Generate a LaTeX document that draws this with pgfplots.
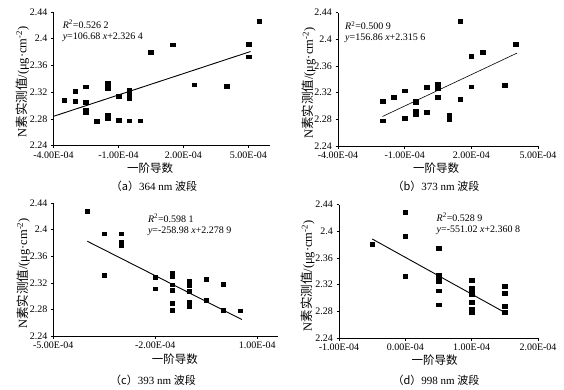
\documentclass[border=0pt]{standalone}
\usepackage{fontspec}
\setmainfont{Liberation Serif}
\newfontfamily\cjk{Noto Sans CJK SC}
\usepackage{pgfplots}
\pgfplotsset{compat=1.18}
\pgfplotsset{panel/.style={
  scale only axis, height=133.5pt,
  axis x line*=bottom, axis y line*=left,
  axis line style={-, black, line width=0.6pt},
  ymin=2.24, ymax=2.44,
  ytick={2.24,2.28,2.32,2.36,2.40,2.44},
  yticklabels={2.24,2.28,2.32,2.36,2.4,2.44},
  scaled x ticks=false,
  tick align=outside, major tick length=2.5pt,
  tick style={black, line width=0.5pt},
  ticklabel style={font=\fontsize{10}{12}\selectfont},
  /pgf/number format/assume math mode=true,
  clip=false,
  xlabel={一阶导数},
  ylabel={N{\cjk 素实测值}/(μg·cm\textsuperscript{-2})},
},
pts/.style={only marks, mark=square*, mark size=2.1pt, mark options={fill=black, draw=black, xscale=1.12, yscale=0.9}},
fit/.style={black, line width=0.9pt, no marks},
}
\tikzset{eq/.style={anchor=north west, align=left, font=\fontsize{10}{11}\selectfont, inner sep=0pt}}
\begin{document}
\begin{tikzpicture}
\useasboundingbox (0,0) rectangle (564pt,-389pt);
% (a)
\begin{axis}[panel, at={(53.5pt,-145.5pt)}, anchor=south west, width=216.5pt,
  xmin=-4e-4, xmax=6e-4, xtick={-4e-4,-1e-4,2e-4,5e-4},
  xticklabels={-4.00E-04,-1.00E-04,2.00E-04,5.00E-04},
  xlabel style={at={([yshift=-22.5pt]axis description cs:0.446,0)}, anchor=center, font=\cjk\fontsize{11.5}{13}\selectfont},
  ylabel style={at={([xshift=-31pt]axis description cs:0,0.476)}, anchor=center, font=\fontsize{12.5}{14}\selectfont}]
\addplot[pts] coordinates {
(-3.5e-4,2.308) (-3.0e-4,2.321) (-3.0e-4,2.306) (-2.5e-4,2.328) (-2.5e-4,2.305)
(-2.5e-4,2.293) (-2.5e-4,2.290) (-2.0e-4,2.276) (-1.5e-4,2.333) (-1.5e-4,2.326)
(-1.5e-4,2.286) (-1.5e-4,2.281) (-1.0e-4,2.314) (-1.0e-4,2.278) (-0.5e-4,2.323)
(-0.5e-4,2.317) (-0.5e-4,2.310) (-0.5e-4,2.277) (0,2.277) (0.5e-4,2.380)
(1.5e-4,2.391) (2.5e-4,2.331) (4.0e-4,2.329) (5.0e-4,2.392) (5.0e-4,2.373)
(5.5e-4,2.426)};
\addplot[fit] coordinates {(-4e-4,2.2837) (5.1e-4,2.3808)};
\node[eq] at (rel axis cs:0.042,0.94) {\textit{R}\textsuperscript{2}=0.526 2\\\textit{y}=106.68 \textit{x}+2.326 4};
\end{axis}
% (b)
\begin{axis}[panel, at={(338pt,-146pt)}, anchor=south west, width=200pt,
  xmin=-4e-4, xmax=5e-4, xtick={-4e-4,-1e-4,2e-4,5e-4},
  xticklabels={-4.00E-04,-1.00E-04,2.00E-04,5.00E-04},
  xlabel style={at={([yshift=-22pt]axis description cs:0.49,0)}, anchor=center, font=\cjk\fontsize{11.5}{13}\selectfont},
  ylabel style={at={([xshift=-29pt]axis description cs:0,0.47)}, anchor=center, font=\fontsize{12.5}{14}\selectfont}]
\addplot[pts] coordinates {
(-2.0e-4,2.307) (-2.0e-4,2.278) (-1.5e-4,2.313) (-1.0e-4,2.323) (-1.0e-4,2.282)
(-0.5e-4,2.308) (-0.5e-4,2.305) (-0.5e-4,2.293) (-0.5e-4,2.288) (0,2.328)
(0,2.291) (0.5e-4,2.333) (0.5e-4,2.326) (0.5e-4,2.313) (1.0e-4,2.287)
(1.0e-4,2.280) (1.5e-4,2.427) (1.5e-4,2.310) (2.0e-4,2.374) (2.0e-4,2.329)
(2.5e-4,2.380) (3.5e-4,2.331) (4.0e-4,2.392)};
\addplot[fit, line width=0.6pt] coordinates {(-2e-4,2.2842) (4.05e-4,2.3791)};
\node[eq] at (rel axis cs:0.035,0.933) {\textit{R}\textsuperscript{2}=0.500 9\\\textit{y}=156.86 \textit{x}+2.315 6};
\end{axis}
% (c)
\begin{axis}[panel, at={(53.3pt,-336pt)}, anchor=south west, width=225pt, height=133pt,
  xmin=-5e-4, xmax=1.62e-4, xtick={-5e-4,-2e-4,1e-4},
  xticklabels={-5.00E-04,-2.00E-04,1.00E-04},
  xlabel style={at={([yshift=-23pt]axis description cs:0.54,0)}, anchor=center, font=\cjk\fontsize{11.5}{13}\selectfont},
  ylabel style={at={([xshift=-30pt]axis description cs:0,0.47)}, anchor=center, font=\fontsize{12.5}{14}\selectfont}]
\addplot[pts] coordinates {
(-4.0e-4,2.428) (-3.5e-4,2.394) (-3.5e-4,2.332) (-3.0e-4,2.394) (-3.0e-4,2.381)
(-3.0e-4,2.376) (-2.0e-4,2.328) (-2.0e-4,2.311) (-1.5e-4,2.334) (-1.5e-4,2.330)
(-1.5e-4,2.317) (-1.5e-4,2.309) (-1.5e-4,2.289) (-1.5e-4,2.279) (-1.0e-4,2.323)
(-1.0e-4,2.316) (-1.0e-4,2.307) (-1.0e-4,2.291) (-1.0e-4,2.287) (-1.0e-4,2.284)
(-0.5e-4,2.325) (-0.5e-4,2.294) (0,2.318) (0,2.279) (0.5e-4,2.278)};
\addplot[fit] coordinates {(-4e-4,2.3825) (0.55e-4,2.2647)};
\node[eq] at (rel axis cs:0.42,0.918) {\textit{R}\textsuperscript{2}=0.598 1\\\textit{y}=-258.98 \textit{x}+2.278 9};
\end{axis}
% (d)
\begin{axis}[panel, at={(339pt,-338pt)}, anchor=south west, width=199pt,
  xmin=-1e-4, xmax=2e-4, xtick={-1e-4,0,1e-4,2e-4},
  xticklabels={-1.00E-04,0.00E-04,1.00E-04,2.00E-04},
  xlabel style={at={([yshift=-22pt]axis description cs:0.48,0)}, anchor=center, font=\cjk\fontsize{11.5}{13}\selectfont},
  ylabel style={at={([xshift=-31pt]axis description cs:0,0.465)}, anchor=center, font=\fontsize{12.5}{14}\selectfont}]
\addplot[pts] coordinates {
(-0.5e-4,2.381) (0,2.428) (0,2.393) (0,2.333) (0.5e-4,2.375)
(0.5e-4,2.334) (0.5e-4,2.329) (0.5e-4,2.325) (0.5e-4,2.311) (0.5e-4,2.290)
(1.0e-4,2.327) (1.0e-4,2.315) (1.0e-4,2.310) (1.0e-4,2.306) (1.0e-4,2.294)
(1.0e-4,2.283) (1.0e-4,2.279) (1.5e-4,2.318) (1.5e-4,2.307) (1.5e-4,2.288)
(1.5e-4,2.279)};
\addplot[fit] coordinates {(-0.5e-4,2.3884) (1.5e-4,2.2782)};
\node[eq] at (rel axis cs:0.49,0.938) {\textit{R}\textsuperscript{2}=0.528 9\\\textit{y}=-551.02 \textit{x}+2.360 8};
\end{axis}
\node[font=\fontsize{11}{13}\selectfont] at (154pt,-186pt) {{\cjk （a）}364 nm {\cjk 波段}};
\node[font=\fontsize{11}{13}\selectfont] at (436pt,-186pt) {{\cjk （b）}373 nm {\cjk 波段}};
\node[font=\fontsize{11}{13}\selectfont] at (153pt,-380.5pt) {{\cjk （c）}393 nm {\cjk 波段}};
\node[font=\fontsize{11}{13}\selectfont] at (436pt,-380.5pt) {{\cjk （d）}998 nm {\cjk 波段}};
\end{tikzpicture}
\end{document}
